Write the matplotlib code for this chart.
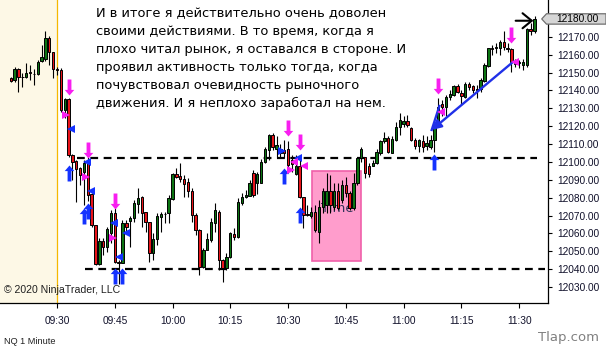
"""NQ 1 Minute candlestick chart with trade markers (NinjaTrader style)."""

import matplotlib
matplotlib.use("Agg")
import matplotlib.pyplot as plt
import matplotlib.transforms as mtransforms
from matplotlib.patches import Rectangle, Polygon
from matplotlib.path import Path

W, H = 606, 350
BG = "#ffffff"
PREMARKET = "#fdf8e6"
SESSION_LINE = "#f5b800"
UP = "#0c7412"
DOWN = "#e8141a"
BLUE = "#1432ff"
MAGENTA = "#f81ef0"
LINE_BLUE = "#2030e8"
PINK = "#ff9dcc"
PINK_EDGE = "#f060aa"

# ---- data: one candle per minute starting at 09:18 ----
START_MIN = 9 * 60 + 18
opens = [
    12146.75, 12145.75, 12152.0, 12147.25, 12147.25, 12150.5, 12149.25, 12149.0, 12156.5, 12157.5,
    12169.5, 12161.25, 12151.75, 12151.5, 12129.0, 12135.25, 12104.0, 12100.5, 12096.75, 12094.5,
    12100.0, 12082.0, 12064.75, 12042.75, 12055.75, 12052.5, 12060.0, 12071.25, 12044.0, 12043.5,
    12066.0, 12067.25, 12068.5, 12076.5, 12080.25, 12071.75, 12066.25, 12049.25, 12056.75, 12069.0,
    12070.75, 12071.25, 12079.25, 12093.25, 12092.25, 12090.25, 12089.0, 12083.5, 12070.25, 12062.0,
    12041.5, 12051.0, 12056.25, 12066.0, 12072.25, 12045.25, 12040.5, 12047.0, 12059.75, 12057.75,
    12077.0, 12080.25, 12081.0, 12094.0, 12088.0, 12088.5, 12100.25, 12106.75, 12115.0, 12107.0,
    12105.0, 12106.75, 12107.0, 12101.0, 12093.5, 12097.5, 12080.25, 12070.75, 12069.5, 12072.25,
    12061.0, 12075.0, 12076.0, 12083.5, 12075.0, 12084.0, 12078.75, 12087.0, 12082.5, 12074.0,
    12088.0, 12102.0, 12102.5, 12097.75, 12097.75, 12099.25, 12104.75, 12111.5, 12113.25, 12105.25,
    12112.25, 12119.75, 12121.5, 12123.0, 12118.75, 12112.25, 12109.0, 12112.0, 12108.75, 12108.5,
    12112.25, 12120.75, 12132.5, 12131.0, 12136.25, 12137.5, 12142.5, 12138.5, 12136.25, 12143.5,
    12142.5, 12140.0, 12140.75, 12145.5, 12153.75, 12163.5, 12163.5, 12164.0, 12167.0, 12164.0,
    12163.0, 12156.0, 12155.25, 12154.25, 12154.25, 12174.25, 12173.0,
]
highs = [
    12147.75, 12153.25, 12152.75, 12150.0, 12155.25, 12154.25, 12152.25, 12157.0, 12165.5, 12173.25,
    12170.5, 12161.75, 12153.25, 12152.5, 12135.5, 12135.75, 12104.25, 12101.0, 12097.25, 12101.0,
    12104.5, 12082.5, 12065.0, 12057.25, 12057.25, 12063.75, 12073.25, 12074.0, 12045.0, 12067.5,
    12067.5, 12069.5, 12078.75, 12085.25, 12081.0, 12072.25, 12066.5, 12060.0, 12071.25, 12072.25,
    12072.25, 12081.5, 12094.0, 12096.5, 12099.25, 12092.75, 12091.0, 12085.25, 12071.25, 12062.5,
    12051.75, 12060.0, 12068.5, 12077.0, 12073.25, 12045.5, 12049.0, 12061.0, 12063.0, 12079.75,
    12082.5, 12084.25, 12090.0, 12095.5, 12094.5, 12101.5, 12108.5, 12115.5, 12116.0, 12114.25,
    12110.0, 12112.25, 12111.5, 12104.0, 12104.0, 12104.0, 12080.5, 12076.0, 12075.0, 12076.0,
    12078.75, 12085.25, 12093.75, 12092.75, 12088.0, 12088.0, 12090.0, 12091.75, 12083.5, 12093.75,
    12103.0, 12108.25, 12103.0, 12099.25, 12101.0, 12107.5, 12112.25, 12117.0, 12114.25, 12114.25,
    12122.5, 12127.25, 12125.5, 12126.25, 12119.75, 12113.25, 12112.75, 12115.0, 12114.25, 12115.0,
    12121.5, 12135.5, 12134.75, 12137.5, 12140.25, 12143.0, 12143.5, 12140.25, 12144.5, 12144.5,
    12143.0, 12143.0, 12146.75, 12155.25, 12164.0, 12165.5, 12166.5, 12168.0, 12173.0, 12166.5,
    12163.5, 12157.5, 12157.0, 12157.5, 12174.75, 12177.5, 12181.75,
]
lows = [
    12144.5, 12144.5, 12139.25, 12142.0, 12146.75, 12145.75, 12143.0, 12148.75, 12156.0, 12156.5,
    12154.25, 12146.75, 12148.5, 12128.0, 12124.5, 12103.0, 12090.0, 12077.75, 12087.0, 12076.0,
    12078.0, 12063.75, 12042.25, 12042.25, 12048.0, 12049.75, 12054.5, 12043.25, 12032.0, 12043.25,
    12060.0, 12052.5, 12066.5, 12071.25, 12063.75, 12061.0, 12044.25, 12045.25, 12053.5, 12061.0,
    12065.75, 12065.75, 12078.75, 12090.75, 12089.0, 12080.5, 12080.25, 12066.5, 12059.25, 12036.75,
    12040.5, 12050.75, 12055.5, 12061.0, 12039.5, 12033.0, 12039.5, 12046.0, 12056.25, 12057.25,
    12076.0, 12079.75, 12081.0, 12080.5, 12082.0, 12088.0, 12099.5, 12101.0, 12106.75, 12102.0,
    12103.0, 12102.0, 12095.5, 12094.5, 12092.75, 12079.75, 12063.0, 12069.5, 12068.5, 12061.0,
    12054.5, 12071.25, 12071.25, 12071.25, 12073.0, 12073.0, 12077.0, 12080.5, 12073.0, 12073.0,
    12087.0, 12100.25, 12091.0, 12091.75, 12097.5, 12099.0, 12104.0, 12110.5, 12104.75, 12104.75,
    12111.5, 12115.0, 12119.75, 12119.75, 12111.5, 12107.5, 12105.75, 12105.75, 12106.75, 12107.5,
    12105.75, 12119.75, 12125.5, 12125.5, 12134.75, 12137.0, 12138.5, 12132.0, 12135.5, 12140.25,
    12138.5, 12135.5, 12139.25, 12145.0, 12153.25, 12160.0, 12160.75, 12160.0, 12162.75, 12161.75,
    12150.5, 12153.25, 12152.5, 12151.5, 12153.25, 12171.0, 12172.0,
]
closes = [
    12145.25, 12152.0, 12147.75, 12147.75, 12150.0, 12149.5, 12149.0, 12156.0, 12158.5, 12169.5,
    12161.25, 12152.0, 12151.5, 12129.0, 12135.25, 12104.0, 12100.0, 12096.0, 12092.75, 12099.25,
    12081.5, 12064.75, 12042.75, 12055.75, 12052.5, 12062.75, 12071.25, 12044.25, 12043.5, 12066.0,
    12063.75, 12068.5, 12077.0, 12079.75, 12071.5, 12066.25, 12049.25, 12056.75, 12069.5, 12071.0,
    12071.0, 12079.75, 12093.25, 12091.5, 12090.25, 12087.75, 12083.5, 12070.25, 12062.0, 12041.0,
    12051.0, 12056.75, 12066.5, 12073.25, 12045.25, 12040.5, 12047.0, 12060.0, 12057.75, 12077.75,
    12080.5, 12081.5, 12088.0, 12081.5, 12093.5, 12100.25, 12107.5, 12115.0, 12108.5, 12109.5,
    12107.5, 12105.0, 12098.25, 12099.0, 12097.75, 12080.25, 12070.25, 12070.5, 12072.25, 12062.0,
    12075.0, 12083.75, 12083.5, 12076.0, 12083.5, 12074.0, 12087.0, 12082.5, 12074.0, 12088.5,
    12102.0, 12107.5, 12093.75, 12093.25, 12099.25, 12105.75, 12111.5, 12113.25, 12105.75, 12112.75,
    12119.75, 12123.5, 12123.0, 12120.75, 12112.25, 12109.0, 12112.25, 12108.5, 12110.5, 12112.25,
    12120.75, 12131.0, 12130.5, 12136.25, 12138.0, 12142.5, 12139.25, 12137.0, 12143.5, 12142.0,
    12140.0, 12141.0, 12146.0, 12154.25, 12163.5, 12163.0, 12164.5, 12167.0, 12164.5, 12163.0,
    12156.0, 12154.75, 12156.0, 12156.0, 12174.25, 12173.0, 12180.0,
]

# support / resistance levels (dashed)
LEVEL_PRICES = [12102.0, 12040.0]
LEVEL_SPANS = [(17.1, 136.7), (19.3, 138.7)]

# trade markers: (candle index, price)
down_arrows = [(15, 12141.7), (20, 12106.7), (27, 12078.4), (72, 12118.8),
               (75, 12111.4), (111, 12142.5), (130, 12171.0)]
up_arrows = [(15, 12094.1), (19, 12069.9), (20, 12072.7), (27, 12036.0),
             (29, 12036.0), (71, 12092.4), (75, 12070.6), (110, 12099.7)]
blue_left = [(15.7, 12118.7), (19.8, 12100.0), (20.75, 12083.9), (26.9, 12066.0),
             (29.8, 12060.4), (28.2, 12046.6), (74.6, 12102.2)]
blue_right = [(70.4, 12106.4)]
magenta_right = [(14.3, 12126.3), (19.5, 12091.6), (26.5, 12057.3), (72.8, 12095.5)]
magenta_left = [(73.5, 12100.0), (76.2, 12097.7), (111.7, 12128.1), (131.0, 12156.1)]

# drawn objects
TIME_BOX = (78.3, 90.9, 12044.6, 12094.9)
TREND_LINE = [(130.5, 12156.1), (109.3, 12117.9)]
TREND_TICK = [(109.3, 12117.9), (111.3, 12131.3)]
PRICE_ARROW = [(131.1, 12179.0), (135.7, 12179.0)]

TIME_TICKS = ["09:30", "09:45", "10:00", "10:15", "10:30", "10:45", "11:00", "11:15", "11:30"]
PRICE_TICKS = [12030, 12040, 12050, 12060, 12070, 12080, 12090, 12100,
               12110, 12120, 12130, 12140, 12150, 12160, 12170]

NOTE_LINES = [
    "И в итоге я действительно очень доволен",
    "своими действиями. В то время, когда я",
    "плохо читал рынок, я оставался в стороне. И",
    "проявил активность только тогда, когда",
    "почувствовал очевидность рыночного",
    "движения. И я неплохо заработал на нем.",
]

UP_PATH = Path([(0, 0.5), (0.3, 0.15), (0.12, 0.15), (0.12, -0.5),
                (-0.12, -0.5), (-0.12, 0.15), (-0.3, 0.15), (0, 0.5)], closed=True)
DOWN_PATH = Path([(x, -y) for x, y in UP_PATH.vertices], closed=True)


def minute_index(label: str) -> int:
    h, m = label.split(":")
    return int(h) * 60 + int(m) - START_MIN


def draw_candles(ax) -> None:
    idx = range(len(opens))
    ax.vlines(list(idx), lows, highs, color="black", linewidth=0.8, zorder=3)
    bottoms = [min(o, c) for o, c in zip(opens, closes)]
    heights = [abs(c - o) for o, c in zip(opens, closes)]
    colors = [UP if c >= o else DOWN for o, c in zip(opens, closes)]
    ax.bar(list(idx), heights, bottom=bottoms, width=0.62, color=colors,
           edgecolor="black", linewidth=0.7, zorder=4)


def main() -> None:
    fig = plt.figure(figsize=(W / 100, H / 100), dpi=100)
    fig.patch.set_facecolor(BG)
    ax = fig.add_axes([0, 47 / H, 548 / W, 303 / H])
    ax.set_facecolor(BG)
    ax.set_xlim(-2.8, 139.5)
    ax.set_ylim(12021.1, 12190.6)

    session_open = minute_index("09:30")
    ax.axvspan(-2.8, session_open, color=PREMARKET, zorder=0, lw=0)
    ax.axvline(session_open, color=SESSION_LINE, linewidth=0.9, zorder=1)

    x0, x1, y0, y1 = TIME_BOX
    ax.add_patch(Rectangle((x0, y0), x1 - x0, y1 - y0, facecolor=PINK,
                           edgecolor=PINK_EDGE, linewidth=1.2, zorder=1))
    ax.text(x0 + 2.3, 12074.2, "Time", fontsize=9.5, color="#34345c",
            va="center", ha="left", zorder=2)

    for price, (a, b) in zip(LEVEL_PRICES, LEVEL_SPANS):
        ax.plot([a, b], [price, price], color="black", linewidth=1.6,
                dashes=(3.5, 2.5), zorder=2)

    draw_candles(ax)

    # trend line with arrowhead at the lower-left end
    (tx0, ty0), (tx1, ty1) = TREND_LINE
    ax.annotate("", xy=(tx1, ty1), xytext=(tx0, ty0),
                arrowprops=dict(arrowstyle="-|>", color=LINE_BLUE, lw=1.7,
                                mutation_scale=14, shrinkA=0, shrinkB=0), zorder=6)
    ax.plot(*zip(*TREND_TICK), color=LINE_BLUE, linewidth=1.7, zorder=6)

    (ax0, ay0), (ax1, ay1) = PRICE_ARROW
    ax.annotate("", xy=(ax1, ay1), xytext=(ax0, ay0),
                arrowprops=dict(arrowstyle="->,head_length=0.55,head_width=0.45",
                                color="black", lw=1.5, mutation_scale=12,
                                shrinkA=0, shrinkB=0), zorder=6)

    for pts, path, color in [(down_arrows, DOWN_PATH, MAGENTA), (up_arrows, UP_PATH, BLUE)]:
        xs, ys = zip(*pts)
        ax.plot(xs, ys, linestyle="none", marker=path, markersize=11.5,
                color=color, markeredgewidth=0, zorder=7)
    for pts, marker, color in [
        (blue_left, "<", BLUE), (blue_right, ">", BLUE),
        (magenta_right, ">", MAGENTA), (magenta_left, "<", MAGENTA),
    ]:
        xs, ys = zip(*pts)
        ax.plot(xs, ys, linestyle="none", marker=marker, markersize=6,
                color=color, markeredgewidth=0, zorder=7)

    # axes styling
    for side in ("top", "left"):
        ax.spines[side].set_visible(False)
    for side in ("right", "bottom"):
        ax.spines[side].set_color("black")
        ax.spines[side].set_linewidth(0.9)
    ax.yaxis.tick_right()
    ax.set_yticks(PRICE_TICKS)
    ax.set_yticklabels([f"{p:.2f}" for p in PRICE_TICKS])
    ax.set_xticks([minute_index(t) for t in TIME_TICKS])
    ax.set_xticklabels(TIME_TICKS)
    ax.tick_params(axis="y", length=3, width=0.8, pad=3.5, labelsize=7.3,
                   labelcolor="#10102a", labelfontfamily="Liberation Sans")
    ax.tick_params(axis="x", length=3.5, width=0.8, pad=5.5, labelsize=7.3,
                   labelcolor="#10102a", labelfontfamily="Liberation Sans")

    # last price marker on the price axis
    blend = mtransforms.blended_transform_factory(fig.transFigure, ax.transData)
    last = closes[-1]
    ax.add_patch(Polygon([(541.7 / W, last), (546.5 / W, last + 2.9), (1.0, last + 2.9),
                          (1.0, last - 2.9), (546.5 / W, last - 2.9)],
                         closed=True, transform=blend, facecolor="#d6d6d6",
                         edgecolor="#707070", linewidth=0.9, clip_on=False, zorder=8))
    ax.text(556.5 / W, last, f"{last:.2f}", transform=blend, fontsize=7.3,
            family="Liberation Sans", color="black", va="center", ha="left",
            clip_on=False, zorder=9)

    # annotation text
    for i, line in enumerate(NOTE_LINES):
        fig.text(96 / W, 1 - (17.5 + 18.0 * i) / H, line, fontsize=9.4,
                 family="DejaVu Sans", color="black", va="baseline", ha="left")

    fig.text(4 / W, 1 - 290 / H, "© 2020 NinjaTrader, LLC", fontsize=7.6,
             family="Liberation Sans", color="#202020", va="center", ha="left")
    fig.text(4 / W, 1 - 341 / H, "NQ 1 Minute", fontsize=6.6,
             family="Liberation Sans", color="#202020", va="center", ha="left")
    fig.text(599 / W, 1 - 338 / H, "Tlap.com", fontsize=9.5, family="DejaVu Sans",
             color="#808080", va="center", ha="right")

    fig.savefig("out.png", dpi=100, facecolor=BG)
    plt.close(fig)


if __name__ == "__main__":
    main()
